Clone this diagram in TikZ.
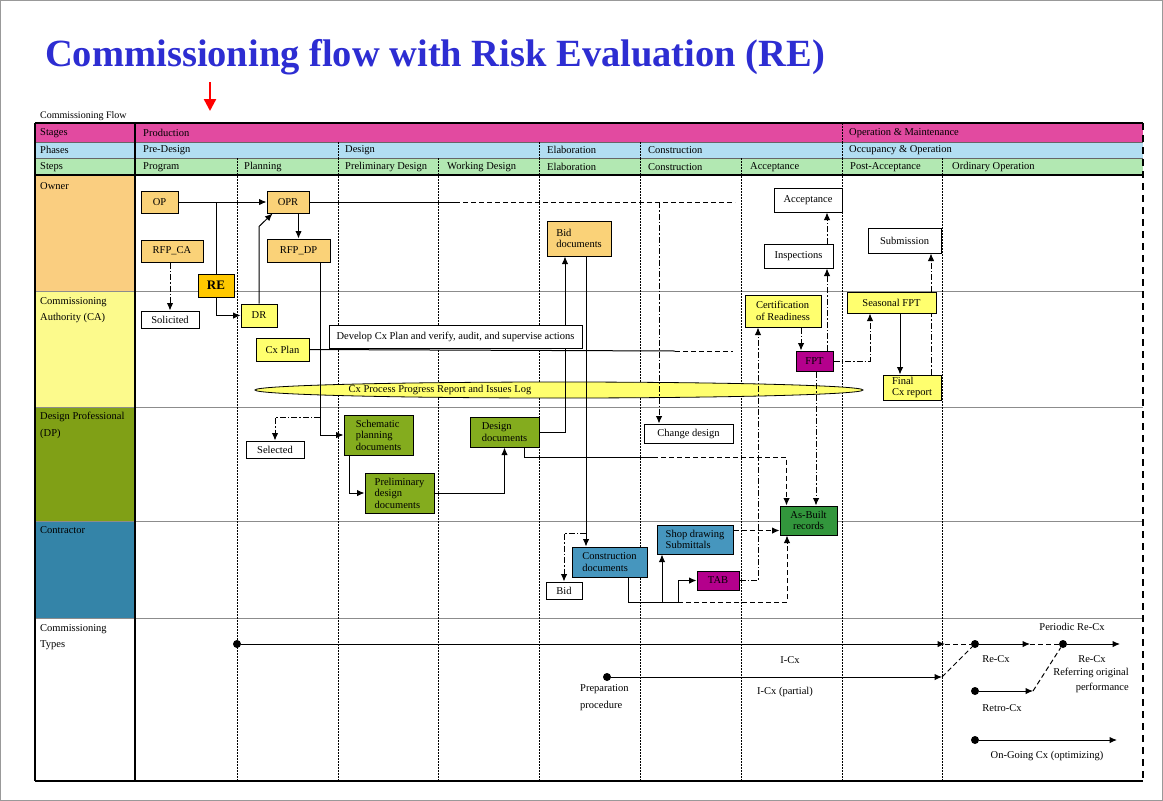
\documentclass[tikz,border=0pt]{standalone}
\usepackage{fontspec}
\setmainfont{Liberation Serif}
\usetikzlibrary{arrows.meta,shapes.geometric,positioning,calc}
\definecolor{titleblue}{RGB}{45,45,210}
\definecolor{stagepink}{RGB}{226,74,160}
\definecolor{phaseblue}{RGB}{178,222,242}
\definecolor{stepgreen}{RGB}{178,232,178}
\definecolor{ownercol}{RGB}{250,206,128}
\definecolor{cacol}{RGB}{252,250,140}
\definecolor{dpcol}{RGB}{128,160,22}
\definecolor{concol}{RGB}{52,132,168}
\definecolor{ownfill}{RGB}{250,210,120}
\definecolor{cafill}{RGB}{255,255,110}
\definecolor{dpfill}{RGB}{132,172,30}
\definecolor{confill}{RGB}{70,150,190}
\definecolor{testfill}{RGB}{180,0,140}
\definecolor{asbfill}{RGB}{50,150,60}
\definecolor{refill}{RGB}{255,200,0}

\begin{document}
\begin{tikzpicture}[x=1pt,y=-1pt,
    txt/.style={font=\fontsize{10.5}{12}\selectfont,inner sep=0pt},
    box/.style={draw,line width=1pt,font=\fontsize{10.5}{11.5}\selectfont,
                align=center,inner sep=2pt},
    obox/.style={box,fill=ownfill},
    cbox/.style={box,fill=cafill},
    dbox/.style={box,fill=dpfill,align=left},
    kbox/.style={box,fill=confill,align=left},
    mbox/.style={box,fill=testfill},
    wbox/.style={box,fill=white},
    arr/.style={-{Latex[length=7.5pt,width=6.5pt]},line width=1pt},
    dd/.style={line width=1pt,dash pattern=on 6pt off 2pt on 1.5pt off 2pt},
    dsh/.style={line width=1pt,dash pattern=on 5pt off 3pt},
    divline/.style={line width=1pt,dash pattern=on 1.5pt off 1.5pt},
    rowline/.style={draw=black!45,line width=0.8pt},
    dot/.style={circle,fill=black,minimum size=8pt,inner sep=0pt},
  ]
  \useasboundingbox (0,0) rectangle (1163,801);
  \draw[black!40,line width=0.6pt] (0.5,0.5) rectangle (1162.5,800.5);

  % title and marker
  \node[anchor=base west,inner sep=0pt,text=titleblue,
        font=\fontsize{38.5}{42}\selectfont\bfseries] (title) at (45,66)
        {Commissioning flow with Risk Evaluation (RE)};
  \coordinate (redtop) at (210,82);
  \coordinate (redtip) at (210,111);
  \draw[red,line width=2.4pt,-{Triangle[length=12pt,width=12pt]}] (redtop) -- (redtip);
  \node[txt,anchor=west,font=\fontsize{10}{11}\selectfont] (flowlbl) at (40,116) {Commissioning Flow};

  % header bands and lanes
  \fill[stagepink] (35,123) rectangle (1143,142);
  \fill[phaseblue] (35,142) rectangle (1143,158);
  \fill[stepgreen] (35,158) rectangle (1143,175);
  \fill[ownercol] (35,175) rectangle (135,291);
  \fill[cacol] (35,291) rectangle (135,407);
  \fill[dpcol] (35,407) rectangle (135,521);
  \fill[concol] (35,521) rectangle (135,618);
  \draw[black!60,line width=0.8pt] (35,142) -- (1143,142);
  \draw[black!60,line width=0.8pt] (35,158) -- (1143,158);
  \foreach \ry in {291,407,521,618}
    \draw[rowline] (35,\ry) -- (1143,\ry);
  \foreach \dx in {237,338,438,539,640,741,842,942}
    \draw[divline] (\dx,158) -- (\dx,781);
  \foreach \dx in {338,539,640,842}
    \draw[divline] (\dx,142) -- (\dx,158);
  \draw[divline] (842,123) -- (842,142);
  \draw[line width=1.5pt] (35,123) -- (1143,123);
  \draw[line width=1.5pt] (35,175) -- (1143,175);
  \draw[line width=1.5pt] (35,781) -- (1143,781);
  \draw[line width=1.2pt] (35,123) -- (35,781);
  \draw[line width=1.5pt] (135,123) -- (135,781);
  \draw[line width=2.2pt,dash pattern=on 7pt off 5pt] (1143,123) -- (1143,781);

  % header texts
  \node[txt,anchor=west] (hstage) at (40,133) {Stages};
  \node[txt,anchor=west] (hphase) at (40,150) {Phases};
  \node[txt,anchor=west] (hstep) at (40,167) {Steps};
  \node[txt,anchor=west] (sprod) at (143,133) {Production};
  \node[txt,anchor=west] (som) at (849,133) {Operation \& Maintenance};
  \node[txt,anchor=west] (ppre) at (143,150) {Pre-Design};
  \node[txt,anchor=west] (pdes) at (345,150) {Design};
  \node[txt,anchor=west] (pela) at (547,150) {Elaboration};
  \node[txt,anchor=west] (pcon) at (648,150) {Construction};
  \node[txt,anchor=west] (pocc) at (849,150) {Occupancy \& Operation};
  \node[txt,anchor=west] (sprog) at (143,167) {Program};
  \node[txt,anchor=west] (splan) at (244,167) {Planning};
  \node[txt,anchor=west] (sprel) at (345,167) {Preliminary Design};
  \node[txt,anchor=west] (swork) at (447,167) {Working Design};
  \node[txt,anchor=west] (sela) at (547,167) {Elaboration};
  \node[txt,anchor=west] (scon) at (648,167) {Construction};
  \node[txt,anchor=west] (sacc) at (750,167) {Acceptance};
  \node[txt,anchor=west] (spost) at (850,167) {Post-Acceptance};
  \node[txt,anchor=west] (sord) at (952,167) {Ordinary Operation};

  % lane texts
  \node[txt,anchor=west] (lowner) at (40,186) {Owner};
  \node[txt,anchor=north west,align=left,font=\fontsize{10.5}{16.5}\selectfont] (lca) at (40,297)
       {Commissioning\\Authority (CA)};
  \node[txt,anchor=north west,align=left,font=\fontsize{10.5}{16.5}\selectfont] (ldp) at (40,412)
       {Design Professional\\(DP)};
  \node[txt,anchor=west] (lcon) at (40,530) {Contractor};
  \node[txt,anchor=north west,align=left,font=\fontsize{10.5}{16.5}\selectfont] (ltypes) at (40,624)
       {Commissioning\\Types};

  % owner
  \node[obox,minimum width=37,minimum height=22] (OP) at (159.5,202) {OP};
  \node[obox,minimum width=42,minimum height=22] (OPR) at (288,202) {OPR};
  \node[obox,minimum width=62,minimum height=22] (RFPCA) at (172,251) {RFP\_CA};
  \node[obox,minimum width=63,minimum height=23] (RFPDP) at (298.5,250.5) {RFP\_DP};
  \node[obox,minimum width=64,minimum height=35,align=left] (Biddoc) at (579,238.5) {Bid\\documents};
  \node[wbox,minimum width=68,minimum height=24] (Accept) at (808,200) {Acceptance};
  \node[wbox,minimum width=69,minimum height=24] (Inspect) at (798.5,256) {Inspections};
  \node[wbox,minimum width=73,minimum height=25] (Submit) at (904.5,240.5) {Submission};

  % commissioning authority
  \node[wbox,minimum width=58,minimum height=17] (Solicit) at (170,319.5) {Solicited};
  \node[cbox,minimum width=36,minimum height=23] (DR) at (259,315.5) {DR};
  \node[cbox,minimum width=53,minimum height=23] (CxPlan) at (282.5,349.5) {Cx Plan};
  \node[ellipse,draw,line width=0.8pt,fill=cafill,minimum width=608,minimum height=16,
        inner sep=0pt,label={[txt,xshift=-119pt]center:Cx Process Progress Report and Issues Log}]
        (Log) at (559,390) {};
  \node[cbox,minimum width=76,minimum height=32,align=left] (Cert) at (783,311)
        {Certification\\of Readiness};
  \node[mbox,minimum width=37,minimum height=20] (FPT) at (814.5,361) {FPT};
  \node[cbox,minimum width=89,minimum height=21] (Season) at (891.5,302.5) {Seasonal FPT};
  \node[cbox,minimum width=58,minimum height=25,align=left,
        font=\fontsize{10.5}{10.5}\selectfont] (Final) at (912,387.5) {Final\\Cx report};

  % design professional
  \node[wbox,minimum width=58,minimum height=17] (Select) at (275,449.5) {Selected};
  \node[dbox,minimum width=69,minimum height=40] (Schem) at (378.5,435)
        {Schematic\\planning\\documents};
  \node[dbox,minimum width=69,minimum height=40] (Prelim) at (399.5,493)
        {Preliminary\\design\\documents};
  \node[dbox,minimum width=69,minimum height=30] (Designdoc) at (504.5,432)
        {Design\\documents};
  \node[wbox,minimum width=89,minimum height=19] (Change) at (688.5,433.5) {Change design};

  % contractor
  \node[kbox,minimum width=75,minimum height=30] (Condoc) at (609.5,562)
        {Construction\\documents};
  \node[kbox,minimum width=76,minimum height=29] (Shop) at (695,539.5)
        {Shop drawing\\Submittals};
  \node[mbox,minimum width=42,minimum height=19] (TAB) at (718,580.5) {TAB};
  \node[wbox,minimum width=36,minimum height=17] (Bid) at (564,590.5) {Bid};
  \node[box,fill=asbfill,minimum width=57,minimum height=29] (Asbuilt) at (808.5,520.5)
        {As-Built\\records};

  % connectors
  \coordinate (oprend) at (455,202);
  \coordinate (oprdash) at (735,202);
  \coordinate (chg) at (659,202);
  \coordinate (dpdown) at ([xshift=21.5pt]RFPDP.south);
  \coordinate (selbr) at (320,417);
  \coordinate (bidbr) at (586,533);
  \coordinate (cbase) at (662,602);
  \coordinate (tbase) at (678,602);
  \coordinate (ddturn) at (653,457);
  \coordinate (cxsolid) at (675,351);
  \coordinate (cxend) at (733,351);

  \draw[arr] (OP) -- (OPR);
  \draw[arr] (DR.north) -- ++(0,-77) -- ([xshift=6pt]OPR.south west);
  \draw[arr] (RFPDP.north |- OPR.south) -- (RFPDP.north);
  \draw[line width=1pt] (OPR) -- (oprend);
  \draw[dsh] (oprend) -- (oprdash);
  \draw[dd,arr] (chg) -- ([xshift=-29.5pt]Change.north);
  \draw[dd,arr] (Solicit.north |- RFPCA.south) -- (Solicit.north);
  \draw[arr] (dpdown) |- (Schem.west);
  \draw[dd,arr] (selbr) -| (Select.north);
  \draw[arr] ([xshift=-29.5pt]Schem.south) |- (Prelim.west);
  \draw[arr] (Prelim.east) -| (Designdoc.south);
  \draw[arr] (Designdoc.east) -| ([xshift=-14pt]Biddoc.south);
  \draw[arr] ([xshift=7pt]Biddoc.south) -- ([xshift=7pt]Biddoc.south |- Condoc.north);
  \draw[dd,arr] (bidbr) -| (Bid.north);
  \draw[arr] ([xshift=18.5pt]Condoc.south) |- (cbase) -- (cbase |- Shop.south);
  \draw[arr] (cbase) -- (tbase) |- (TAB.west);
  \draw[dsh,arr] (tbase) -| ([xshift=-21.5pt]Asbuilt.south);
  \draw[dsh,arr] ([yshift=9pt]Shop.east) -- ([yshift=9pt]Shop.east -| Asbuilt.west);
  \draw[dd,arr] (TAB.east) -| ([xshift=-25pt]Cert.south);
  \draw[dd,arr] ([xshift=18pt]Cert.south) -- ([xshift=18pt]Cert.south |- FPT.north);
  \draw[dd,arr] ([xshift=12.5pt]FPT.north) -- ([xshift=12.5pt]FPT.north |- Inspect.south);
  \draw[dd,arr] ([xshift=28.5pt]Inspect.north) -- ([xshift=28.5pt]Inspect.north |- Accept.south);
  \draw[dd,arr] (FPT.east) -| ([xshift=-21.5pt]Season.south);
  \draw[arr] ([xshift=8.5pt]Season.south) -- ([xshift=8.5pt]Season.south |- Final.north);
  \draw[dd] ([xshift=19pt]Final.north) -- ([xshift=19pt]Final.north |- Season.south);
  \draw[dd,arr] ([xshift=19pt]Final.north |- Season.north) -- ([xshift=19pt]Final.north |- Submit.south);
  \draw[dd,arr] ([xshift=1.5pt]FPT.south) -- ([xshift=1.5pt]FPT.south |- Asbuilt.north);
  \draw[line width=1pt] ([xshift=19.5pt]Designdoc.south) |- (ddturn);
  \draw[dsh,arr] (ddturn) -| ([xshift=-22pt]Asbuilt.north);
  \draw[line width=1pt] (CxPlan.east) -- (cxsolid);
  \draw[dsh] (cxsolid) -- (cxend);

  % drawn last so that the lines pass behind
  \node[wbox,minimum width=253,minimum height=23] (Develop) at (455.5,336.5)
        {Develop Cx Plan and verify, audit, and supervise actions};
  \node[box,fill=refill,minimum width=36,minimum height=23,
        font=\fontsize{13}{14}\selectfont\bfseries] (RE) at (216,285.5) {RE};
  \draw[line width=1pt] (OP -| RE) -- (RE.north);
  \draw[arr] (RE.south) |- (DR.west);

  % commissioning types
  \node[dot] (t1) at (237,644) {};
  \node[dot] (r1) at (975,644) {};
  \node[dot] (r2) at (1063,644) {};
  \node[dot] (p1) at (607,677) {};
  \node[dot] (rc) at (975,691) {};
  \node[dot] (og) at (975,740) {};
  \coordinate (t1end) at (945,644);
  \coordinate (r1end) at (1030,644);
  \coordinate (r2end) at (1120,644);
  \coordinate (p1end) at (942,677);
  \coordinate (rcend) at (1033,691);
  \coordinate (ogend) at (1117,740);
  \draw[arr] (t1) -- (t1end);
  \draw[dsh] (t1end) -- (r1);
  \draw[arr] (r1) -- (r1end);
  \draw[dsh] (r1end) -- (r2);
  \draw[arr] (r2) -- (r2end);
  \draw[arr] (p1) -- (p1end);
  \draw[dsh] (p1end) -- (r1);
  \draw[arr] (rc) -- (rcend);
  \draw[dsh] (rcend) -- (r2);
  \draw[arr] (og) -- (ogend);
  \node[txt] (licx) at (790,660) {I-Cx};
  \node[txt] (lpart) at (785,692) {I-Cx (partial)};
  \node[txt,anchor=north west,align=left,font=\fontsize{10.5}{17}\selectfont] (lprep) at (580,684)
       {Preparation\\procedure};
  \node[txt] (lrecx) at (996,659) {Re-Cx};
  \node[txt] (lperi) at (1072,627) {Periodic Re-Cx};
  \node[txt] (lrecx2) at (1092,659) {Re-Cx};
  \node[txt,anchor=north east,align=right,font=\fontsize{10.5}{15}\selectfont] (lref) at (1129,668)
       {Referring original\\performance};
  \node[txt] (lretro) at (1002,708) {Retro-Cx};
  \node[txt] (logo) at (1047,756) {On-Going Cx (optimizing)};
\end{tikzpicture}
\end{document}
